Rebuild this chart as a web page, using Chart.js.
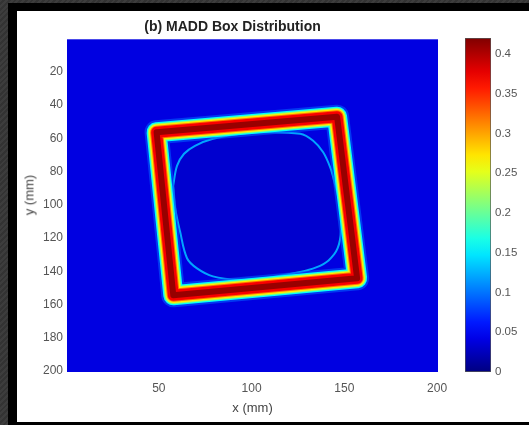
<!DOCTYPE html>
<html>
<head>
<meta charset="utf-8">
<script src="https://cdn.jsdelivr.net/npm/chart.js@4.4.1/dist/chart.umd.min.js"></script>
<style>
  html, body { margin: 0; padding: 0; width: 529px; height: 425px; overflow: hidden;
    background: repeating-linear-gradient(135deg, #3d3d3d 0 2px, #333 2px 4px); }
  #frame { position: absolute; left: 8px; top: 3px; width: 521px; height: 422px; background: #000; }
  #panel { position: absolute; left: 17px; top: 11px; width: 512px; height: 411px; background: #fff; }
  #main { position: absolute; left: 0; top: 0; }
  #bar { position: absolute; left: 460px; top: 0; }
  #ylab { position: absolute; left: 29px; top: 195px; transform: translate(-50%, -50%) rotate(-90deg);
    font: 13px "Liberation Sans", Arial, sans-serif; color: #444; white-space: nowrap; }
</style>
</head>
<body>
<div id="frame"></div>
<div id="panel"></div>
<canvas id="main" width="529" height="425"></canvas>
<canvas id="bar" width="69" height="425"></canvas>
<div id="ylab">y (mm)</div>
<script>
/* tick labels */
const xTicks = [50, 100, 150, 200];
const yTicks = [20, 40, 60, 80, 100, 120, 140, 160, 180, 200];
const cbTicks = [0, 0.05, 0.1, 0.15, 0.2, 0.25, 0.3, 0.35, 0.4];
const cbMax = 0.42;

/* the box (centre line of the red band), corners in mm: TL, TR, BR, BL, back to TL */
const boxX = [48.8, 146.1, 156.9, 57.8, 48.8];
const boxY = [56.4, 47.0, 144.2, 154.4, 56.4];
/* values across the band, from the core outwards */
const bandLevels = [0.41, 0.37, 0.32, 0.27, 0.22, 0.16, 0.09];

/* the light blue contour inside the box */
const ringX = [57.7, 59.8, 63.6, 69.5, 79.2, 93.8, 104.6, 126.2, 133.2, 138.6, 142.4, 144.5, 147.7, 148.3,
  146.4, 141.5, 134.8, 126.2, 104.6, 93.8, 79.2, 70.6, 65.2, 61.4, 58.8, 57.7];
const ringY = [88.7, 76.6, 69.3, 64.5, 60.3, 57.3, 56.4, 57.3, 61.5, 68.4, 77.5, 85.6, 100.7, 114.6,
  126.1, 133.4, 137.6, 140.3, 144.5, 145.1, 143.0, 138.2, 132.1, 115.8, 102.0, 88.7];
const ringValue = 0.12;
const backgroundValue = 0.04;
const centreValue = 0.02;

const family = '"Liberation Sans", Arial, sans-serif';

/* matlab jet colormap, t from 0 to 1 */
function jet(t, a) {
  const c = v => Math.round(255 * Math.max(0, Math.min(1, v)));
  const r = c(1.5 - Math.abs(4 * t - 3));
  const g = c(1.5 - Math.abs(4 * t - 2));
  const b = c(1.5 - Math.abs(4 * t - 1));
  return `rgba(${r},${g},${b},${a === undefined ? 1 : a})`;
}

const boxPts = boxX.map((x, i) => ({ x, y: boxY[i] }));
const ringPts = ringX.map((x, i) => ({ x, y: ringY[i] }));
const bandWidths = [6, 11, 13, 15.5, 17.5, 20, 24];

const datasets = [];
bandLevels.forEach((v, i) => {
  datasets.push({
    data: boxPts,
    borderColor: jet(v / cbMax, i === bandLevels.length - 1 ? 0.6 : 1),
    borderWidth: bandWidths[i],
    borderJoinStyle: 'round',
    borderCapStyle: 'round',
    pointRadius: 0,
    tension: 0,
    fill: false
  });
});
datasets.push({
  data: ringPts,
  borderColor: jet(ringValue / cbMax),
  borderWidth: 2,
  pointRadius: 0,
  tension: 0.35,
  fill: 'shape',
  backgroundColor: jet(centreValue / cbMax, 0.35)
});

const areaFill = {
  id: 'areaFill',
  beforeDatasetsDraw(chart) {
    const { ctx, chartArea: a } = chart;
    ctx.save();
    ctx.fillStyle = jet(backgroundValue / cbMax);
    ctx.fillRect(a.left, a.top, a.width, a.height);
    ctx.restore();
  }
};

new Chart(document.getElementById('main'), {
  type: 'line',
  data: { datasets },
  options: {
    responsive: false,
    animation: false,
    layout: { padding: { left: 27, right: 91, top: 18.5, bottom: 7 } },
    plugins: {
      legend: { display: false },
      tooltip: { enabled: false },
      title: {
        display: true,
        text: '(b) MADD Box Distribution',
        color: '#222',
        font: { size: 14, weight: 'bold', family },
        padding: { top: 0, bottom: 4 }
      }
    },
    scales: {
      x: {
        type: 'linear',
        min: 0.5,
        max: 200.5,
        grid: { display: false, drawTicks: false },
        border: { display: false },
        afterBuildTicks: s => { s.ticks = xTicks.map(v => ({ value: v })); },
        afterFit: s => { s.height = 46; },
        ticks: { padding: 9, color: '#555', maxRotation: 0, font: { size: 12, family } },
        title: { display: true, text: 'x (mm)', color: '#444', font: { size: 13, family }, padding: { top: 0, bottom: 2 } }
      },
      y: {
        type: 'linear',
        reverse: true,
        min: 0.5,
        max: 200.5,
        grid: { display: false, drawTicks: false },
        border: { display: false },
        afterBuildTicks: s => { s.ticks = yTicks.map(v => ({ value: v })); },
        afterFit: s => { s.width = 40; },
        ticks: { padding: 4, color: '#555', font: { size: 12, family } }
      }
    }
  },
  plugins: [areaFill]
});

/* colour bar */
new Chart(document.getElementById('bar'), {
  type: 'bar',
  data: {
    labels: [''],
    datasets: [{
      data: [[0, cbMax]],
      backgroundColor: ctx => {
        const a = ctx.chart.chartArea;
        if (!a) return jet(0.5);
        const g = ctx.chart.ctx.createLinearGradient(0, a.bottom, 0, a.top);
        for (let k = 0; k <= 20; k++) g.addColorStop(k / 20, jet(k / 20));
        return g;
      },
      borderColor: '#555',
      borderWidth: 1,
      borderSkipped: false,
      barPercentage: 1,
      categoryPercentage: 1
    }]
  },
  options: {
    responsive: false,
    animation: false,
    layout: { padding: { left: 5, top: 38, bottom: 53, right: 0 } },
    plugins: { legend: { display: false }, tooltip: { enabled: false } },
    scales: {
      x: { display: false },
      y: {
        position: 'right',
        min: 0,
        max: cbMax,
        grid: { display: false, drawTicks: false },
        border: { display: false },
        afterBuildTicks: s => { s.ticks = cbTicks.map(v => ({ value: v })); },
        afterFit: s => { s.width = 38; },
        ticks: { padding: 4, color: '#555', font: { size: 11.5, family }, callback: v => String(+v.toFixed(2)) }
      }
    }
  }
});
</script>
</body>
</html>
